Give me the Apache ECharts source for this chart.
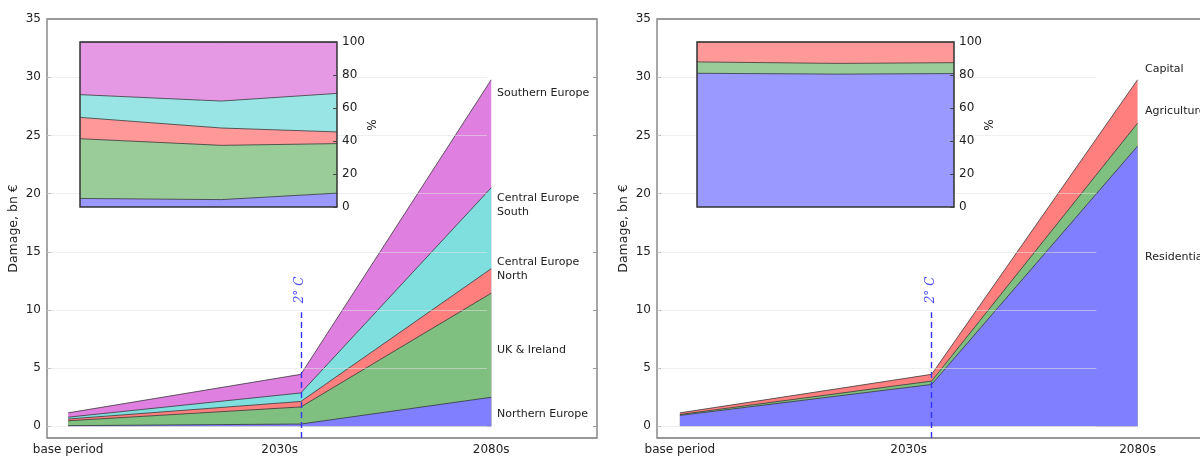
<!DOCTYPE html>
<html><head><meta charset="utf-8">
<script src="https://cdn.jsdelivr.net/npm/echarts@6/dist/echarts.min.js"></script>
<style>html,body{margin:0;padding:0;background:#fff}#c{width:1200px;height:457px}</style>
</head><body><div id="c"></div>
<script>
// ---- categories / ticks ----
const periodLabels = ['base period', '2030s', '2080s'];
const periodTicks = [0, 1, 2];
// x position of each data point (middle point sits at the 2 °C warming period)
const pointX = [0, 1.1, 2];
const warmingX = 1.1;
const warmingLabel = '2° C';
const damageTicks = [0, 5, 10, 15, 20, 25, 30, 35];
const shareTicks = [0, 20, 40, 60, 80, 100];

// ---- damage by region, bn € ----
const regionNames = ['Northern Europe', 'UK & Ireland', 'Central Europe North', 'Central Europe South', 'Southern Europe'];
const northernEurope     = [0.06, 0.20, 2.50];
const ukIreland          = [0.42, 1.47, 8.94];
const centralEuropeNorth = [0.15, 0.47, 2.11];
const centralEuropeSouth = [0.16, 0.73, 6.95];
const southernEurope     = [0.37, 1.60, 9.28];

// ---- damage by sector, bn € ----
const sectorNames = ['Residential', 'Agriculture', 'Capital'];
const residential = [0.94, 3.60, 24.08];
const agriculture = [0.08, 0.29, 1.97];
const capital     = [0.14, 0.58, 3.73];

// ---- styling ----
const FONT = 'DejaVu Sans';
const mainColors = ['#7f7fff', '#7fbf7f', '#ff7f7f', '#7fdfdf', '#df7fdf'];
const insetColors = ['#9999ff', '#99cc99', '#ff9999', '#99e5e5', '#e599e5'];
const sectorMain = ['#7f7fff', '#7fbf7f', '#ff7f7f'];
const sectorInset = ['#9999ff', '#99cc99', '#ff9999'];

const regions = [northernEurope, ukIreland, centralEuropeNorth, centralEuropeSouth, southernEurope];
const sectors = [residential, agriculture, capital];

function shares(list) {
  return list.map(arr => arr.map((v, j) => {
    let tot = 0; list.forEach(a => tot += a[j]);
    return v / tot * 100;
  }));
}
// cumulative tops of a stack (layer i top = sum of layers 0..i)
function cumulative(list) {
  const out = [];
  list.forEach((arr, i) => {
    out.push(arr.map((v, j) => v + (i > 0 ? out[i - 1][j] : 0)));
  });
  return out;
}

// stacked areas: opaque layers, drawn from the top layer down so lower layers overlay
function stackSeries(list, names, colors, xi, yi, z) {
  const tops = cumulative(list);
  const res = [];
  for (let i = tops.length - 1; i >= 0; i--) {
    res.push({
      name: names[i], type: 'line', xAxisIndex: xi, yAxisIndex: yi,
      data: pointX.map((x, j) => [x, tops[i][j]]),
      symbol: 'none', silent: true, z: z,
      lineStyle: { color: 'rgba(50,50,50,0.75)', width: 1 },
      areaStyle: { color: colors[i], opacity: 1, origin: 'auto' }
    });
  }
  return res;
}

function helper(xi, yi, gridEnd) {
  return [{
    type: 'line', xAxisIndex: xi, yAxisIndex: yi, data: [], z: 3, silent: true,
    markLine: {
      silent: true, symbol: ['none', 'none'], label: { show: false }, animation: false,
      lineStyle: { color: 'rgba(225,225,225,0.55)', width: 1, type: 'solid' },
      data: damageTicks.filter(v => v < 35).map(v => [{ coord: [-0.1, v] }, { coord: [gridEnd, v] }])
    }
  }, {
    type: 'line', xAxisIndex: xi, yAxisIndex: yi, data: [], z: 4, silent: true,
    markLine: {
      silent: true, symbol: ['none', 'none'], label: { show: false }, animation: false,
      lineStyle: { color: '#3535ff', width: 1.4, type: [6, 4] },
      data: [[{ coord: [warmingX, -1] }, { coord: [warmingX, 9.8] }]]
    }
  }];
}

const tickText = { fontFamily: FONT, fontSize: 12, color: '#222' };

function mainX(gi) {
  return {
    type: 'value', gridIndex: gi, min: -0.1, max: 2.5,
    axisLine: { show: false, onZero: false }, splitLine: { show: false }, axisTick: { show: false },
    axisLabel: Object.assign({ customValues: periodTicks, margin: 6,
      formatter: v => periodLabels[periodTicks.indexOf(v)] || '' }, tickText)
  };
}
function insetX(gi) {
  return { type: 'value', gridIndex: gi, min: 0, max: 2, show: false, axisLine: { onZero: false } };
}
function mainY(gi, withName) {
  return {
    type: 'value', gridIndex: gi, min: -1, max: 35, position: 'left',
    axisLine: { show: false, onZero: false }, splitLine: { show: false },
    axisTick: { show: true, inside: true, length: 4, customValues: damageTicks, lineStyle: { color: '#999' } },
    axisLabel: Object.assign({ customValues: damageTicks, margin: 6 }, tickText),
    name: withName ? 'Damage, bn €' : '', nameLocation: 'middle', nameGap: 27, nameRotate: 90,
    nameTextStyle: { fontFamily: FONT, fontSize: 12.5, color: '#222' }
  };
}
function rightTicks(gi) {
  return {
    type: 'value', gridIndex: gi, min: -1, max: 35, position: 'right',
    axisLine: { show: false, onZero: false }, splitLine: { show: false }, axisLabel: { show: false },
    axisTick: { show: true, inside: true, length: 4, customValues: damageTicks, lineStyle: { color: '#999' } }
  };
}
function insetY(gi) {
  return {
    type: 'value', gridIndex: gi, min: 0, max: 100, interval: 20, position: 'right', z: 7,
    axisLine: { show: false, onZero: false }, splitLine: { show: false },
    axisTick: { show: true, inside: true, length: 4, customValues: shareTicks, lineStyle: { color: '#444' } },
    axisLabel: Object.assign({ margin: 5, customValues: shareTicks }, tickText)
  };
}

const regionShares = shares(regions);
const sectorShares = shares(sectors);

const gridBase = { show: true, backgroundColor: 'transparent', outerBoundsMode: 'none', containLabel: false };
const option = {
  animation: false,
  backgroundColor: '#fff',
  grid: [
    Object.assign({ left: 47, top: 19, width: 550, height: 419, borderColor: '#777', borderWidth: 1.3 }, gridBase),
    Object.assign({ left: 657, top: 19, width: 595, height: 419, borderColor: '#777', borderWidth: 1.3 }, gridBase),
    Object.assign({ left: 80, top: 42, width: 257, height: 165, borderColor: '#333', borderWidth: 1.5, z: 6 }, gridBase),
    Object.assign({ left: 697, top: 42, width: 257, height: 165, borderColor: '#333', borderWidth: 1.5, z: 6 }, gridBase)
  ],
  xAxis: [mainX(0), mainX(1), insetX(2), insetX(3)],
  yAxis: [mainY(0, true), rightTicks(0), mainY(1, true), insetY(2), insetY(3)],
  series: [].concat(
    stackSeries(regions, regionNames, mainColors, 0, 0, 2),
    stackSeries(sectors, sectorNames, sectorMain, 1, 2, 2),
    stackSeries(regionShares, regionNames, insetColors, 2, 3, 5),
    stackSeries(sectorShares, sectorNames, sectorInset, 3, 4, 5),
    helper(0, 0, 1.98),
    helper(1, 2, 1.82)
  ),
  graphic: [
    { type: 'text', x: 497, y: 93, style: { text: 'Southern Europe', font: '11px ' + FONT, fill: '#222', verticalAlign: 'middle' } },
    { type: 'text', x: 497, y: 205, style: { text: 'Central Europe\nSouth', font: '11px ' + FONT, fill: '#222', verticalAlign: 'middle', lineHeight: 14 } },
    { type: 'text', x: 497, y: 269, style: { text: 'Central Europe\nNorth', font: '11px ' + FONT, fill: '#222', verticalAlign: 'middle', lineHeight: 14 } },
    { type: 'text', x: 497, y: 350, style: { text: 'UK & Ireland', font: '11px ' + FONT, fill: '#222', verticalAlign: 'middle' } },
    { type: 'text', x: 497, y: 414, style: { text: 'Northern Europe', font: '11px ' + FONT, fill: '#222', verticalAlign: 'middle' } },
    { type: 'text', x: 1145, y: 69, style: { text: 'Capital', font: '11px ' + FONT, fill: '#222', verticalAlign: 'middle' } },
    { type: 'text', x: 1145, y: 111, style: { text: 'Agriculture', font: '11px ' + FONT, fill: '#222', verticalAlign: 'middle' } },
    { type: 'text', x: 1145, y: 257, style: { text: 'Residential', font: '11px ' + FONT, fill: '#222', verticalAlign: 'middle' } },
    { type: 'text', x: 370, y: 125, rotation: -Math.PI / 2, style: { text: '%', font: '12px ' + FONT, fill: '#222', align: 'center', verticalAlign: 'middle' } },
    { type: 'text', x: 987, y: 125, rotation: -Math.PI / 2, style: { text: '%', font: '12px ' + FONT, fill: '#222', align: 'center', verticalAlign: 'middle' } },
    { type: 'text', x: 300, y: 290, rotation: Math.PI / 2, style: { text: warmingLabel, font: 'italic 12px "DejaVu Serif"', fill: '#4a4aff', align: 'center', verticalAlign: 'middle' } },
    { type: 'text', x: 931, y: 290, rotation: Math.PI / 2, style: { text: warmingLabel, font: 'italic 12px "DejaVu Serif"', fill: '#4a4aff', align: 'center', verticalAlign: 'middle' } }
  ]
};

const chart = echarts.init(document.getElementById('c'), null, { renderer: 'canvas' });
chart.setOption(option);
</script>
</body></html>
